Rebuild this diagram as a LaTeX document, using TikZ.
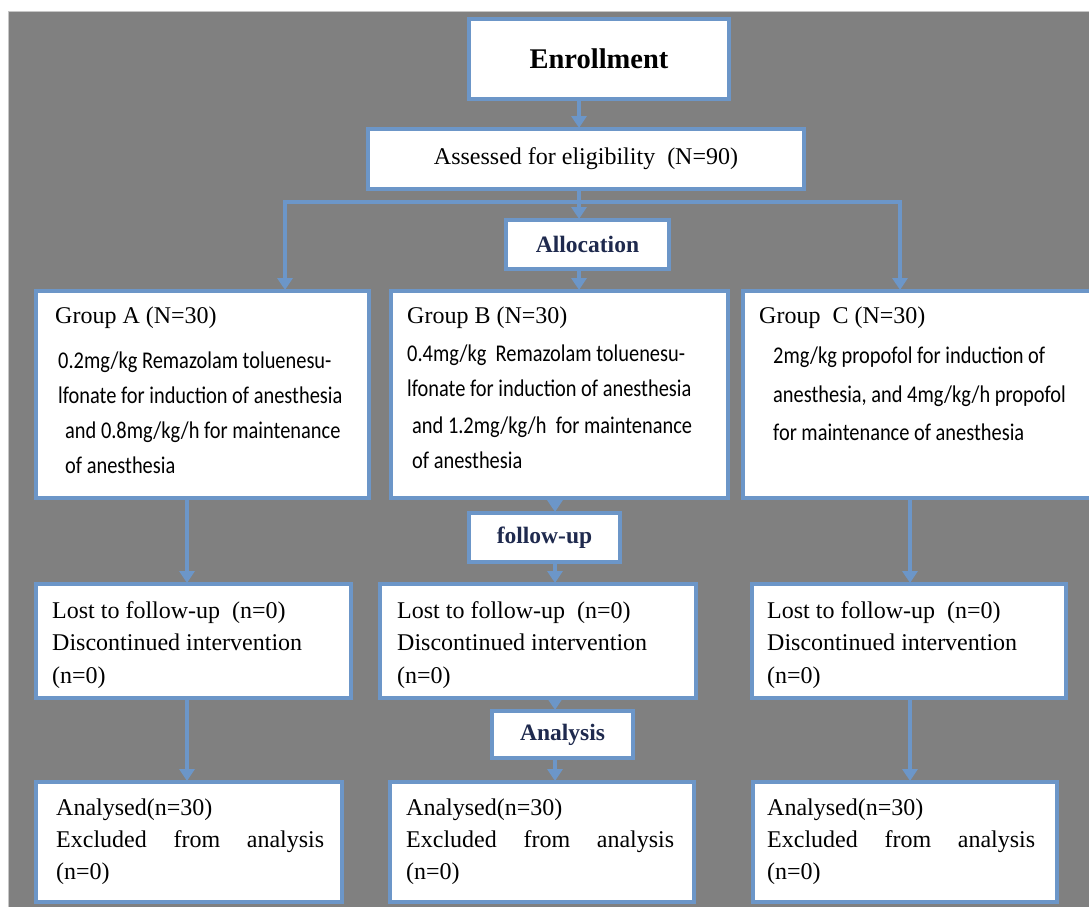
\documentclass[tikz,border=0pt]{standalone}
\usepackage{fontspec}
\setmainfont{Liberation Serif}
\newfontfamily\bodyfont[FakeStretch=0.85]{Carlito}
\usetikzlibrary{arrows.meta}
\definecolor{bgray}{RGB}{128,128,128}
\definecolor{bblue}{RGB}{108,150,200}
\definecolor{navy}{RGB}{31,42,78}
\begin{document}
\begin{tikzpicture}[x=1pt,y=-1pt,
  box/.style={draw=bblue, line width=4pt, fill=white, anchor=north west, inner sep=0pt, outer sep=0pt},
  arr/.style={draw=bblue, line width=4pt, shorten >=1pt, -{Triangle[width=15pt,length=12pt]}},
  ser/.style={anchor=base west, inner sep=0pt, font=\fontsize{24}{28}\selectfont},
  bod/.style={anchor=base west, inner sep=0pt, font=\bodyfont\fontsize{24}{28}\selectfont},
  hdr/.style={box, font=\bfseries\fontsize{23.5}{28}\selectfont, text=navy},
]
\useasboundingbox (0,0) rectangle (1089,907);
\clip (0,0) rectangle (1089,907);
\fill[bgray] (8,11) rectangle (1089,907);
\draw[gray!45, line width=1pt] (8.5,907) -- (8.5,11.5) -- (1089,11.5);

% boxes
\node[box, minimum width=260pt, minimum height=80pt, font=\bfseries\fontsize{28.5}{32}\selectfont] (enr) at (469,19) {Enrollment};
\node[box, minimum width=436pt, minimum height=60pt, font=\fontsize{24}{28}\selectfont] (ass) at (368,129) {Assessed for eligibility\ \ (N=90)};
\node[hdr, minimum width=163pt, minimum height=49pt] (alloc) at (506,220) {Allocation};
\node[box, minimum width=333pt, minimum height=207pt] (gA) at (36,291) {};
\node[box, minimum width=337pt, minimum height=207pt] (gB) at (391,291) {};
\node[box, minimum width=360pt, minimum height=207pt] (gC) at (743,291) {};
\node[hdr, minimum width=151pt, minimum height=49pt] (fu) at (469,513) {follow-up};
\node[box, minimum width=315pt, minimum height=114pt] (lostA) at (36,584) {};
\node[box, minimum width=316pt, minimum height=114pt] (lostB) at (380,584) {};
\node[box, minimum width=314pt, minimum height=114pt] (lostC) at (752,584) {};
\node[hdr, minimum width=141pt, minimum height=47pt] (an) at (492,711) {Analysis};
\node[box, minimum width=306pt, minimum height=120pt] (anaA) at (36,782) {};
\node[box, minimum width=304pt, minimum height=120pt] (anaB) at (390,782) {};
\node[box, minimum width=304pt, minimum height=120pt] (anaC) at (753,782) {};

% connector guide coordinates
\coordinate (cx) at (579,202);
\coordinate (lx) at (285,202);
\coordinate (rx) at (900,202);
\coordinate (ax) at (187,0);
\coordinate (bx) at (555,0);
\coordinate (ccx) at (910,0);

% connectors
\draw[arr] (enr.south -| cx) -- (ass.north -| cx);
\draw[arr] (ass.south -| cx) -- (alloc.north -| cx);
\draw[arr] (cx) -| (gA.north -| lx);
\draw[arr] (cx) -| (gC.north -| rx);
\draw[arr] (alloc.south -| cx) -- (gB.north -| cx);
\draw[arr] (gA.south -| ax) -- (lostA.north -| ax);
\draw[arr] (lostA.south -| ax) -- (anaA.north -| ax);
\draw[arr] (gB.south -| bx) -- (fu.north -| bx);
\draw[arr] (fu.south -| bx) -- (lostB.north -| bx);
\draw[arr] (lostB.south -| bx) -- (an.north -| bx);
\draw[arr] (an.south -| bx) -- (anaB.north -| bx);
\draw[arr] (gC.south -| ccx) -- (lostC.north -| ccx);
\draw[arr] (lostC.south -| ccx) -- (anaC.north -| ccx);

% group A text
\node[ser] (gAh) at (55,323) {Group A (N=30)};
\node[bod] (gA1) at (58,368) {0.2mg/kg Remazolam toluenesu-};
\node[bod] (gA2) at (58,403) {lfonate for induction of anesthesia};
\node[bod] (gA3) at (65,438) {and 0.8mg/kg/h for maintenance};
\node[bod] (gA4) at (65,473) {of anesthesia};
% group B text
\node[ser] (gBh) at (407,323) {Group B (N=30)};
\node[bod] (gB1) at (407,361) {0.4mg/kg\ \ Remazolam toluenesu-};
\node[bod] (gB2) at (407,396) {lfonate for induction of anesthesia};
\node[bod] (gB3) at (412,433) {and 1.2mg/kg/h\ \ for maintenance};
\node[bod] (gB4) at (412,468) {of anesthesia};
% group C text
\node[ser] (gCh) at (759,323) {Group\ \ C (N=30)};
\node[bod] (gC1) at (773,363) {2mg/kg propofol for induction of};
\node[bod] (gC2) at (773,402) {anesthesia, and 4mg/kg/h propofol};
\node[bod] (gC3) at (773,440) {for maintenance of anesthesia};

% lost to follow-up text
\node[ser] (lA1) at (52,618) {Lost to follow-up\ \ (n=0)};
\node[ser] (lA2) at (52,650) {\hbox to 250pt{Discontinued\hfil intervention}};
\node[ser] (lA3) at (52,683) {(n=0)};
\node[ser] (lB1) at (397,618) {Lost to follow-up\ \ (n=0)};
\node[ser] (lB2) at (397,650) {\hbox to 250pt{Discontinued\hfil intervention}};
\node[ser] (lB3) at (397,683) {(n=0)};
\node[ser] (lC1) at (767,618) {Lost to follow-up\ \ (n=0)};
\node[ser] (lC2) at (767,650) {\hbox to 250pt{Discontinued\hfil intervention}};
\node[ser] (lC3) at (767,683) {(n=0)};

% analysed text
\node[ser] (aA1) at (56,815) {Analysed(n=30)};
\node[ser] (aA2) at (56,847) {\hbox to 268pt{Excluded\hfil from\hfil analysis}};
\node[ser] (aA3) at (56,879) {(n=0)};
\node[ser] (aB1) at (406,815) {Analysed(n=30)};
\node[ser] (aB2) at (406,847) {\hbox to 268pt{Excluded\hfil from\hfil analysis}};
\node[ser] (aB3) at (406,879) {(n=0)};
\node[ser] (aC1) at (767,815) {Analysed(n=30)};
\node[ser] (aC2) at (767,847) {\hbox to 268pt{Excluded\hfil from\hfil analysis}};
\node[ser] (aC3) at (767,879) {(n=0)};
\end{tikzpicture}
\end{document}
